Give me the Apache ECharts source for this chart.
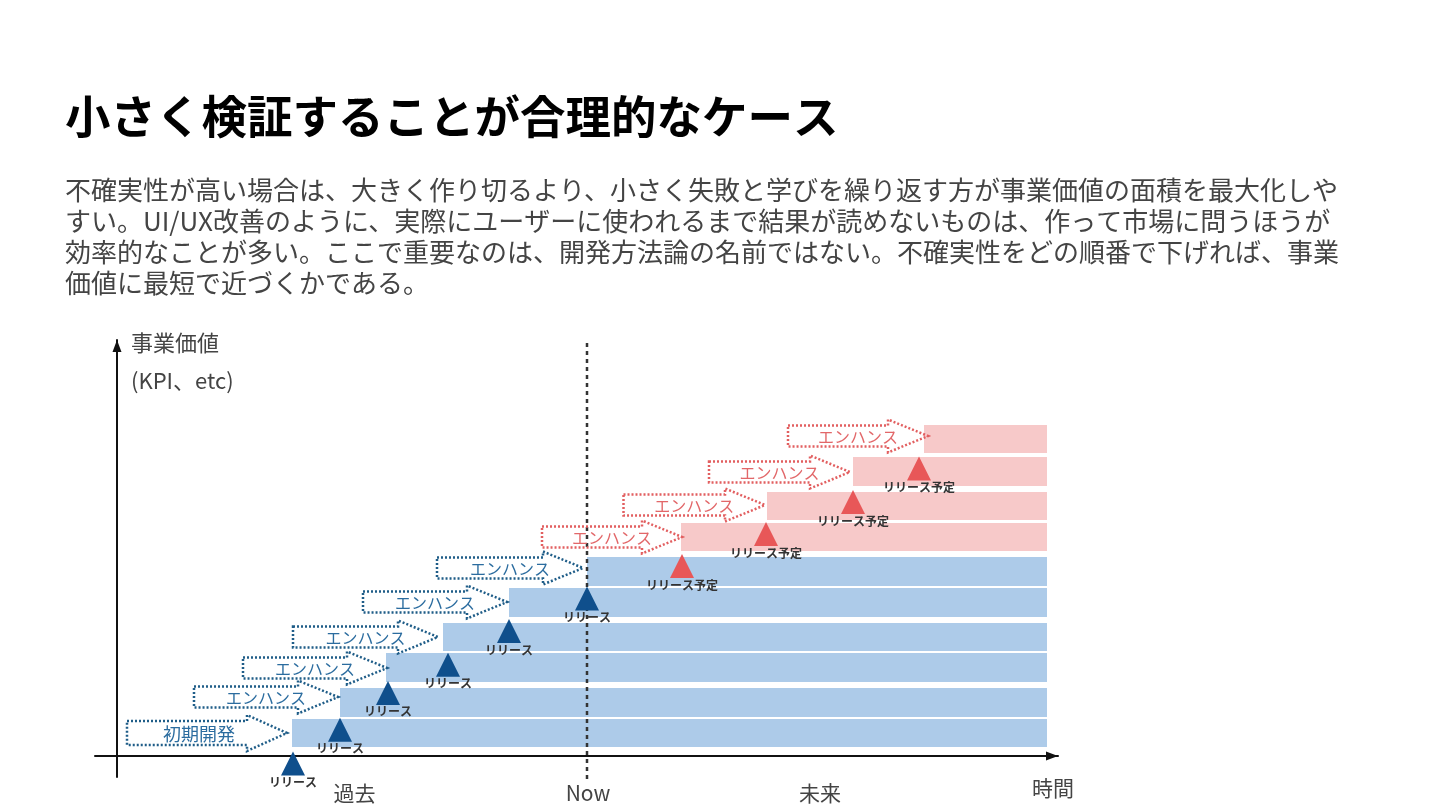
<!DOCTYPE html>
<html>
<head>
<meta charset="utf-8">
<script src="https://cdn.jsdelivr.net/npm/echarts@6/dist/echarts.min.js"></script>
<style>
  html, body { margin: 0; padding: 0; background: #ffffff; }
  #chart { width: 1440px; height: 810px; }
</style>
</head>
<body>
<div id="chart"></div>
<script>
// ---- Data (time units on x, value units on y) ----
const titleText = '小さく検証することが合理的なケース';
const bodyLines = [
  '不確実性が高い場合は、大きく作り切るより、小さく失敗と学びを繰り返す方が事業価値の面積を最大化しや',
  'すい。UI/UX改善のように、実際にユーザーに使われるまで結果が読めないものは、作って市場に問うほうが',
  '効率的なことが多い。ここで重要なのは、開発方法論の名前ではない。不確実性をどの順番で下げれば、事業',
  '価値に最短で近づくかである。'
];
const xAxisName = '時間';
const yAxisName = ['事業価値', '(KPI、etc)'];
const timeTickLabels = ['過去', 'Now', '未来'];
const timeTickValues = [23.75, 47.1, 70.3];
const nowX = 47.0;

const bandEnd = 93.0;
const pastBandStart  = [17.5, 22.3, 26.9, 32.6, 39.2, 47.0];
const pastBandBottom = [0.9, 3.9, 7.4, 10.5, 13.9, 17.0];
const pastBandTop    = [3.7, 6.8, 10.3, 13.3, 16.8, 19.9];
const futureBandStart  = [56.4, 65.0, 73.6, 80.7];
const futureBandBottom = [20.5, 23.6, 27.0, 30.3];
const futureBandTop    = [23.3, 26.4, 29.9, 33.1];

const pastReleaseX = [17.6, 22.3, 27.1, 33.1, 39.2, 47.0];
const pastReleaseY = [-0.74, 2.63, 6.31, 9.13, 12.5, 15.76];
const futureReleaseX = [56.5, 64.9, 73.6, 80.2];
const futureReleaseY = [19.0, 22.2, 25.4, 28.76];
const pastReleaseLabel = 'リリース';
const futureReleaseLabel = 'リリース予定';

const pastArrowStart = [1.0, 7.7, 12.6, 17.6, 24.6, 32.0];
const pastArrowEnd   = [17.0, 22.1, 27.0, 32.1, 39.0, 46.6];
const pastArrowY     = [2.3, 5.9, 8.8, 11.9, 15.4, 18.8];
const pastArrowLabel = ['初期開発', 'エンハンス', 'エンハンス', 'エンハンス', 'エンハンス', 'エンハンス'];
const futureArrowStart = [42.5, 50.65, 59.2, 67.1];
const futureArrowEnd   = [56.5, 64.8, 73.3, 81.1];
const futureArrowY     = [21.9, 25.1, 28.4, 32.0];
const futureArrowLabel = ['エンハンス', 'エンハンス', 'エンハンス', 'エンハンス'];

// ---- Build ----
const FONT = '"Noto Sans CJK JP", "Noto Sans", sans-serif';

function bandData(start, bottom, top) {
  return start.map((s, i) => [s, bandEnd, bottom[i], top[i]]);
}
function pointData(xs, ys) { return xs.map((x, i) => [x, ys[i]]); }
function arrowData(s, e, y) { return s.map((v, i) => [v, e[i], y[i]]); }

function bandRenderer(color) {
  return function (params, api) {
    const p0 = api.coord([api.value(0), api.value(3)]);
    const p1 = api.coord([api.value(1), api.value(2)]);
    return {
      type: 'rect',
      shape: { x: p0[0], y: p0[1], width: p1[0] - p0[0], height: p1[1] - p0[1] },
      style: { fill: color }
    };
  };
}

function arrowRenderer(stroke, textColor, labels) {
  return function (params, api) {
    const a = api.coord([api.value(0), api.value(2)]);
    const b = api.coord([api.value(1), api.value(2)]);
    const lx = a[0], tx = b[0], cy = a[1];
    const label = labels[params.dataIndex];
    const big = label.length === 4;
    const bh = big ? 12 : 10.5, hh = big ? 18 : 16.5, hl = 40;
    const hs = tx - hl;
    const pts = [[lx, cy - bh], [hs, cy - bh], [hs, cy - hh], [tx, cy], [hs, cy + hh], [hs, cy + bh], [lx, cy + bh]];
    return {
      type: 'group',
      children: [
        {
          type: 'polygon',
          shape: { points: pts },
          style: { fill: null, stroke: stroke, lineWidth: 2.5, lineDash: [2, 2] }
        },
        {
          type: 'text',
          x: (lx + tx) / 2 - (big ? 8 : 0),
          y: cy + 1,
          style: {
            text: label, fill: textColor, fontSize: big ? 18 : 16,
            fontFamily: FONT, align: 'center', verticalAlign: 'middle'
          }
        }
      ]
    };
  };
}

function nowLineRenderer(params, api) {
  const p = api.coord([api.value(0), 0]);
  const cs = params.coordSys;
  return {
    type: 'line',
    shape: { x1: p[0], y1: cs.y + 3, x2: p[0], y2: cs.y + cs.height + 3 },
    style: { stroke: '#333333', lineWidth: 2.5, lineDash: [4, 4] }
  };
}

const chart = echarts.init(document.getElementById('chart'), null, { renderer: 'canvas' });

const option = {
  animation: false,
  backgroundColor: '#ffffff',
  title: [
    {
      text: titleText, left: 65, top: 94, padding: 0,
      textStyle: { fontSize: 45.5, fontWeight: 'bold', color: '#000000', fontFamily: FONT }
    },
    {
      text: bodyLines.join('\n'), left: 65, top: 174, padding: 0,
      textStyle: { fontSize: 26, lineHeight: 31.3, fontWeight: 'normal', color: '#444444', fontFamily: FONT }
    }
  ],
  grid: { left: 95, right: 382, top: 340, bottom: 33, containLabel: false, outerBoundsMode: 'none' },
  xAxis: {
    type: 'value', min: -2.2, max: 94.1,
    axisLine: { show: true, onZero: true, symbol: ['none', 'triangle'], symbolSize: [9, 12],
      symbolOffset: [0, -6], lineStyle: { color: '#111111', width: 2 } },
    axisTick: { show: false },
    splitLine: { show: false },
    axisLabel: {
      show: true, customValues: timeTickValues, margin: 6,
      fontSize: 21, color: '#444444', fontFamily: FONT,
      formatter: function (v) {
        let best = 0, d = Infinity;
        timeTickValues.forEach((t, i) => { if (Math.abs(t - v) < d) { d = Math.abs(t - v); best = i; } });
        return timeTickLabels[best];
      }
    },
    name: xAxisName, nameLocation: 'end', nameGap: -26,
    nameTextStyle: { fontSize: 21, color: '#444444', fontFamily: FONT, verticalAlign: 'top', lineHeight: 64 }
  },
  yAxis: {
    type: 'value', min: -2.1, max: 41.6,
    axisLine: { show: true, onZero: true, symbol: ['none', 'triangle'], symbolSize: [9, 12],
      symbolOffset: [0, -6], lineStyle: { color: '#111111', width: 2 } },
    axisTick: { show: false },
    splitLine: { show: false },
    axisLabel: { show: false },
    name: yAxisName.join('\n'), nameLocation: 'end', nameGap: 16,
    nameTextStyle: { fontSize: 22, lineHeight: 38, color: '#444444', fontFamily: FONT,
      align: 'left', verticalAlign: 'top', padding: [0, 0, 0, 14] }
  },
  series: [
    {
      name: 'pastBands', type: 'custom', z: 2,
      renderItem: bandRenderer('#adcbe9'),
      encode: { x: [0, 1], y: [2, 3] },
      data: bandData(pastBandStart, pastBandBottom, pastBandTop)
    },
    {
      name: 'futureBands', type: 'custom', z: 2,
      renderItem: bandRenderer('#f7c9c9'),
      encode: { x: [0, 1], y: [2, 3] },
      data: bandData(futureBandStart, futureBandBottom, futureBandTop)
    },
    {
      name: 'now', type: 'custom', z: 3,
      renderItem: nowLineRenderer,
      encode: { x: 0 },
      data: [[nowX]]
    },
    {
      name: 'pastArrows', type: 'custom', z: 4,
      renderItem: arrowRenderer('#1f5d88', '#2b6c9f', pastArrowLabel),
      encode: { x: [0, 1], y: 2 },
      data: arrowData(pastArrowStart, pastArrowEnd, pastArrowY)
    },
    {
      name: 'futureArrows', type: 'custom', z: 4,
      renderItem: arrowRenderer('#e25f60', '#e26769', futureArrowLabel),
      encode: { x: [0, 1], y: 2 },
      data: arrowData(futureArrowStart, futureArrowEnd, futureArrowY)
    },
    {
      name: 'pastRelease', type: 'scatter', z: 5,
      symbol: 'triangle', symbolSize: [24, 24],
      itemStyle: { color: '#0f4f8c', opacity: 1 },
      label: { show: true, position: 'bottom', distance: 1, formatter: pastReleaseLabel,
        fontSize: 12, fontWeight: 'bold', color: '#333333', fontFamily: FONT },
      data: pointData(pastReleaseX, pastReleaseY)
    },
    {
      name: 'futureRelease', type: 'scatter', z: 5,
      symbol: 'triangle', symbolSize: [24, 24],
      itemStyle: { color: '#e85758', opacity: 1 },
      label: { show: true, position: 'bottom', distance: 1, formatter: futureReleaseLabel,
        fontSize: 12, fontWeight: 'bold', color: '#333333', fontFamily: FONT },
      data: pointData(futureReleaseX, futureReleaseY)
    }
  ]
};

chart.setOption(option);
</script>
</body>
</html>
